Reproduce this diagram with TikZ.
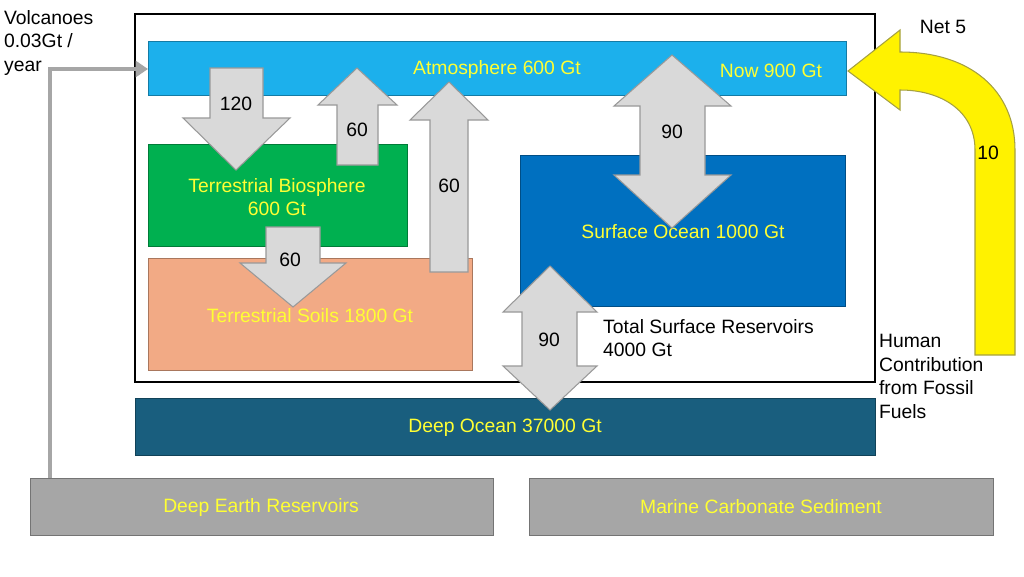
\documentclass[tikz,border=0pt]{standalone}
\usepackage{fontspec}
\setmainfont{Liberation Sans}
\usetikzlibrary{arrows.meta}
\definecolor{atmo}{HTML}{1CB0EC}
\definecolor{bio}{HTML}{00B050}
\definecolor{soil}{HTML}{F2AA85}
\definecolor{surf}{HTML}{0070C0}
\definecolor{deep}{HTML}{195E7E}
\definecolor{res}{HTML}{A6A6A6}
\definecolor{flux}{HTML}{D9D9D9}
\definecolor{txt}{HTML}{FFFF33}
\begin{document}
\begin{tikzpicture}[x=0.02cm,y=-0.02cm,font=\fontsize{11}{13.5}\selectfont,
    box/.style={draw=#1!70!black,fill=#1},
    lbl/.style={text=txt,align=center},
    flow/.style={draw=gray!80,fill=flux,line width=0.6pt,line join=miter},
    num/.style={text=black}]
  \useasboundingbox (0,0) rectangle (1024,576);
  % reservoirs
  \draw[black,fill=white,line width=0.8pt] (135,14) rectangle (875,382);
  \draw[box=atmo] (148,41) rectangle (846,95);
  \draw[box=bio] (148,144) rectangle (407,246);
  \draw[box=soil] (148,258) rectangle (472,370);
  \draw[box=surf] (520,155) rectangle (845,306);
  \draw[box=deep] (135,398) rectangle (875,455);
  \draw[box=res] (30,478) rectangle (493,535);
  \draw[box=res] (529,478) rectangle (993,535);
  \node[lbl] (atm) at (497,69) {Atmosphere 600 Gt};
  \node[lbl] (now) at (771,71) {Now 900 Gt};
  \node[lbl] (bios) at (277,197) {Terrestrial Biosphere\\600 Gt};
  \node[lbl] (soils) at (310,316) {Terrestrial Soils 1800 Gt};
  \node[lbl] (socean) at (683,232) {Surface Ocean 1000 Gt};
  \node[lbl] (docean) at (505,428) {Deep Ocean 37000 Gt};
  \node[lbl] (earth) at (261,507) {Deep Earth Reservoirs};
  \node[lbl] (marine) at (761,507) {Marine Carbonate Sediment};
  % fluxes
  \draw[flow] (210,68) -- (263,68) -- (263,118) -- (290,118) -- (236,170) -- (183,118) -- (210,118) -- cycle;
  \node[num] (f1) at (236,104) {120};
  \draw[flow] (337,165) -- (378,165) -- (378,105) -- (397,105) -- (357,68) -- (318,105) -- (337,105) -- cycle;
  \node[num] (f2) at (357,130) {60};
  \draw[flow] (430,272) -- (468,272) -- (468,120) -- (488,120) -- (449,82) -- (410,120) -- (430,120) -- cycle;
  \node[num] (f3) at (449,186) {60};
  \draw[flow] (266,227) -- (320,227) -- (320,263) -- (346,263) -- (293,307) -- (240,263) -- (266,263) -- cycle;
  \node[num] (f4) at (290,260) {60};
  \draw[flow] (672,55) -- (731,106) -- (705,106) -- (705,175) -- (731,175) -- (672,228) -- (614,175) -- (640,175) -- (640,106) -- (614,106) -- cycle;
  \node[num] (f5) at (672,132) {90};
  \draw[flow] (550,266) -- (597,312) -- (577,312) -- (577,366) -- (597,366) -- (550,410) -- (503,366) -- (522,366) -- (522,312) -- (503,312) -- cycle;
  \node[num] (f6) at (549,340) {90};
  \node[anchor=north west,align=left] (total) at (597,313) {Total Surface Reservoirs\\4000 Gt};
  % human input
  \draw[draw=yellow!60!black,fill=yellow,line width=0.6pt] (975,355) -- (975,150) .. controls (975,110) and (940,90) .. (900,90) -- (900,110) -- (848,71) -- (900,30) -- (900,52) .. controls (970,52) and (1015,90) .. (1015,150) -- (1015,355) -- cycle;
  \node (ten) at (988,153) {10};
  \node (net) at (943,27) {Net 5};
  \node[anchor=north west,align=left,inner sep=1pt] (human) at (877,332) {Human\\Contribution\\from Fossil\\Fuels};
  % volcanoes
  \node[anchor=north west,align=left,inner sep=1pt] (volc) at (2,8) {Volcanoes\\0.03Gt /\\year};
  \coordinate (vs) at (50,478);
  \coordinate (vt) at (148,69);
  \draw[res,line width=2.2pt,-{Triangle[length=7pt,width=9pt]}] (vs) |- (vt);
\end{tikzpicture}
\end{document}
